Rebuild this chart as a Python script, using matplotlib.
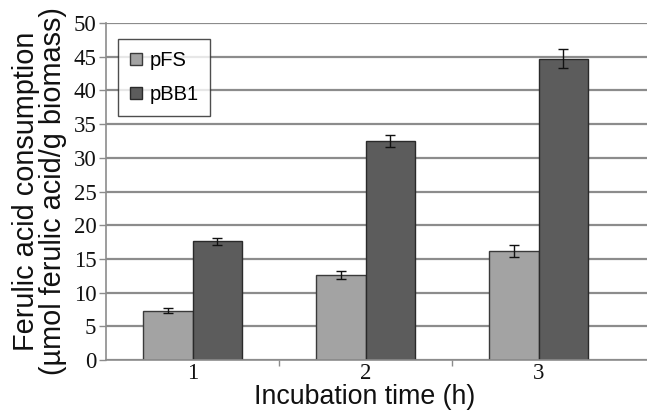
import matplotlib
matplotlib.use("Agg")
import matplotlib.pyplot as plt
import numpy as np

# данные
times = [1, 2, 3]
pfs_vals = [7.3, 12.6, 16.2]
pfs_err = [0.4, 0.6, 0.9]
pbb1_vals = [17.6, 32.5, 44.7]
pbb1_err = [0.55, 0.95, 1.4]
yticks = list(range(0, 51, 5))

W, H = 647, 412
fig = plt.figure(figsize=(W / 100, H / 100), dpi=100)
ax = fig.add_axes([106 / W, (H - 360) / H, (W - 106) / W, (360 - 23) / H])

x = np.array(times, dtype=float)
bw = 0.287
grid_col = "#8c8c8c"

ax.set_axisbelow(True)
ax.yaxis.grid(True, color=grid_col, linewidth=1.6)

ax.bar(x - bw / 2, pfs_vals, bw, color="#a3a3a3", edgecolor="#3a3a3a", linewidth=1.0, label="pFS", zorder=2)
ax.bar(x + bw / 2, pbb1_vals, bw, color="#5c5c5c", edgecolor="#2a2a2a", linewidth=1.0, label="pBB1", zorder=2)
ax.errorbar(x - bw / 2, pfs_vals, yerr=pfs_err, fmt="none", ecolor="#111111", elinewidth=1.0, capsize=3.5, capthick=1.0, zorder=3)
ax.errorbar(x + bw / 2, pbb1_vals, yerr=pbb1_err, fmt="none", ecolor="#111111", elinewidth=1.0, capsize=3.5, capthick=1.0, zorder=3)

ax.set_ylim(0, 50)
ax.set_xlim(0.5, 0.5 + 541 / 173)
ax.set_yticks(yticks)

ax.set_xticks(times)
ax.set_xticks([1.5, 2.5], minor=True)
ax.tick_params(axis="x", which="major", length=0, pad=2)
ax.tick_params(axis="x", which="minor", length=4, width=1.0, color=grid_col, direction="out")
ax.tick_params(axis="y", length=5, width=1.0, color=grid_col, direction="out", pad=2)

for lab in ax.get_xticklabels() + ax.get_yticklabels():
    lab.set_fontfamily("Liberation Serif")
    lab.set_fontsize(16.5)
    lab.set_color("#111111")

for side in ("top", "right"):
    ax.spines[side].set_visible(False)
for side in ("left", "bottom"):
    ax.spines[side].set_color(grid_col)
    ax.spines[side].set_linewidth(1.2)

ax.set_ylabel("Ferulic acid consumption\n(\u00b5mol ferulic acid/g biomass)", linespacing=0.95,
              family="Liberation Sans", size=20.8, color="#111111")
ax.yaxis.set_label_coords(-39 / 541, 0.5)
ax.set_xlabel("Incubation time (h)", family="Liberation Sans", size=19.3, color="#111111", va="bottom")
ax.xaxis.set_label_coords((365 - 106) / 541, -50 / 337)

leg = ax.legend(loc="upper left", bbox_to_anchor=(12 / 541, 1 - 16 / 337), frameon=True, fancybox=False,
                prop=dict(family="Liberation Sans", size=14.5), handlelength=0.6, handleheight=0.6,
                labelspacing=0.75, borderpad=0.6, handletextpad=0.35, borderaxespad=0)
leg.get_frame().set_edgecolor("#222222")
leg.get_frame().set_linewidth(1.0)

fig.savefig("out.png", dpi=100)
